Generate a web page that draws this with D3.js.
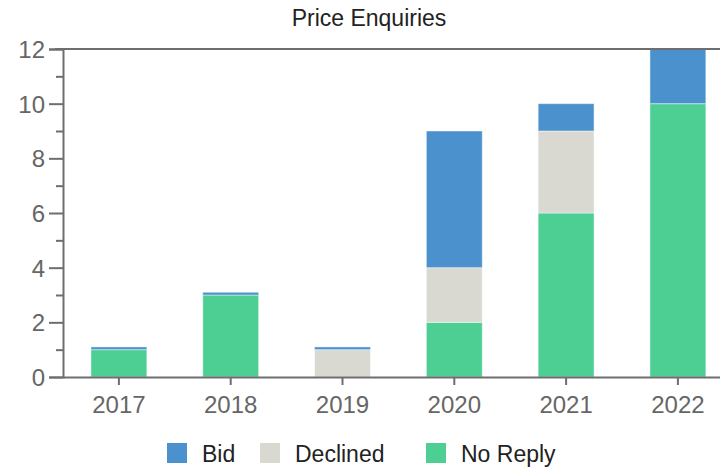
<!DOCTYPE html>
<html>
<head>
<meta charset="utf-8">
<script src="https://cdn.jsdelivr.net/npm/d3@7"></script>
<style>
  body { margin: 0; background: #fff; }
  svg { display: block; font-family: "Liberation Sans", Arial, sans-serif; }
</style>
</head>
<body>
<svg id="chart" width="720" height="468"></svg>
<script>
const years = ["2017", "2018", "2019", "2020", "2021", "2022"];
const seriesNames = ["No Reply", "Declined", "Bid"];
const noReply = [1, 3, 0, 2, 6, 10];
const declined = [0, 0, 1, 2, 3, 0];
const bid = [0.1, 0.1, 0.1, 5, 1, 2];
const yTicks = [0, 2, 4, 6, 8, 10, 12];
const legendOrder = ["Bid", "Declined", "No Reply"];
const colors = { "Bid": "#4b91cd", "Declined": "#d9d9d1", "No Reply": "#4dcf94" };

const rows = years.map((y, i) => ({ year: y, "No Reply": noReply[i], "Declined": declined[i], "Bid": bid[i] }));
const stacked = d3.stack().keys(seriesNames)(rows);

const svg = d3.select("#chart");
const mLeft = 63, mTop = 49, mBottom = 377, step = 111.8;
const x = d3.scaleBand().domain(years).range([mLeft, mLeft + step * years.length]).paddingInner(0.5).paddingOuter(0.25);
const y = d3.scaleLinear().domain([0, 12]).range([mBottom, mTop]);

// bars
svg.append("g").selectAll("g").data(stacked).join("g")
  .attr("fill", d => colors[d.key])
  .selectAll("rect").data(d => d).join("rect")
  .attr("x", d => x(d.data.year))
  .attr("width", x.bandwidth())
  .attr("y", d => y(d[1]))
  .attr("height", d => Math.max(0, y(d[0]) - y(d[1])))
  .attr("stroke", "rgba(255,255,255,0.45)")
  .attr("stroke-width", 1);

// y axis
const yAxis = svg.append("g").attr("transform", `translate(${mLeft},0)`)
  .call(d3.axisLeft(y).tickValues(yTicks).tickSize(14).tickPadding(4).tickFormat(d3.format("d")));
yAxis.select(".domain").attr("stroke", "#6e6e6e").attr("stroke-width", 2);
yAxis.selectAll(".tick line").attr("stroke", "#6e6e6e").attr("stroke-width", 2);
yAxis.selectAll(".tick text").attr("fill", "#666").style("font-size", "24px").attr("dy", "0.36em");
// minor ticks
svg.append("g").attr("transform", `translate(${mLeft},0)`)
  .call(d3.axisLeft(y).tickValues([1, 3, 5, 7, 9, 11]).tickSize(7).tickFormat(""))
  .call(g => g.select(".domain").remove())
  .selectAll(".tick line").attr("stroke", "#6e6e6e").attr("stroke-width", 2);

// top line
svg.append("line").attr("x1", mLeft - 8).attr("x2", 720).attr("y1", mTop).attr("y2", mTop)
  .attr("stroke", "#6e6e6e").attr("stroke-width", 2);

// x axis
const xAxis = svg.append("g").attr("transform", `translate(0,${mBottom})`)
  .call(d3.axisBottom(x).tickSize(8).tickPadding(11).tickSizeOuter(0));
xAxis.select(".domain").attr("stroke", "#6e6e6e").attr("stroke-width", 2);
xAxis.selectAll(".tick line").attr("stroke", "#6e6e6e").attr("stroke-width", 2);
xAxis.selectAll(".tick text").attr("fill", "#666").style("font-size", "24px");

// title
svg.append("text").attr("x", 369).attr("y", 26).attr("text-anchor", "middle")
  .attr("fill", "#222").style("font-size", "23px").text("Price Enquiries");

// legend
const legendX = [167, 260, 426];
const lg = svg.append("g").selectAll("g").data(legendOrder).join("g")
  .attr("transform", (d, i) => `translate(${legendX[i]},443)`);
lg.append("rect").attr("width", 20).attr("height", 20).attr("fill", d => colors[d]);
lg.append("text").attr("x", 35).attr("y", 19).attr("fill", "#222").style("font-size", "23px").text(d => d);
</script>
</body>
</html>
